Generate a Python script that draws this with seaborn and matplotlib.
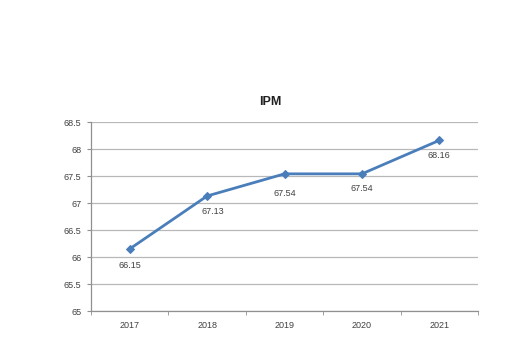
import matplotlib
matplotlib.use("Agg")
import matplotlib.pyplot as plt
import seaborn as sns
import pandas as pd

years = ["2017", "2018", "2019", "2020", "2021"]
ipm = [66.15, 67.13, 67.54, 67.54, 68.16]
yticks = [65, 65.5, 66, 66.5, 67, 67.5, 68, 68.5]
ytick_labels = ["65", "65.5", "66", "66.5", "67", "67.5", "68", "68.5"]

df = pd.DataFrame({"year": years, "ipm": ipm})

sns.set_style("white")
plt.rcParams['font.family'] = ['Liberation Sans', 'DejaVu Sans']

fig = plt.figure(figsize=(5.13, 3.47), dpi=100)
ax = fig.add_axes([0.1774, 0.1037, 0.7544, 0.5447])

line_color = "#4a7ebb"
sns.lineplot(data=df, x="year", y="ipm", ax=ax, color=line_color, linewidth=2.0,
             marker="D", markersize=4.5, markeredgecolor=line_color)

label_offsets = [(0, -9), (4, -8), (0, -11), (0, -7), (0, -8)]
for i, (v, off) in enumerate(zip(ipm, label_offsets)):
    ax.annotate(f"{v:.2f}", (i, v), xytext=off, textcoords="offset points",
                ha="center", va="top", fontsize=6.5, color="#404040")

ax.set_xlim(-0.5, 4.5)
ax.set_ylim(65, 68.5)
ax.set_yticks(yticks)
ax.set_yticklabels(ytick_labels)
ax.set_xticks(range(len(years)))
ax.set_xticklabels(years)
ax.set_xticks([i + 0.5 for i in range(-1, len(years))], minor=True)
ax.yaxis.grid(True, color="#b8b8b8", linewidth=0.9)
ax.xaxis.grid(False)
ax.set_axisbelow(True)

for s in ["top", "right"]:
    ax.spines[s].set_visible(False)
for s in ["left", "bottom"]:
    ax.spines[s].set_color("#909090")
    ax.spines[s].set_linewidth(0.9)

ax.tick_params(axis="y", which="major", length=3, color="#909090", labelsize=6.5,
               labelcolor="#404040", left=True, pad=4)
ax.tick_params(axis="x", which="major", length=0, labelsize=6.5, labelcolor="#404040", pad=7)
ax.tick_params(axis="x", which="minor", length=3, color="#909090", bottom=True)

ax.set_xlabel("")
ax.set_ylabel("")
ax.set_title("IPM", fontsize=9, fontweight="bold", color="#202020", pad=12, x=0.464)

fig.savefig("out.png", dpi=100, facecolor="white")
